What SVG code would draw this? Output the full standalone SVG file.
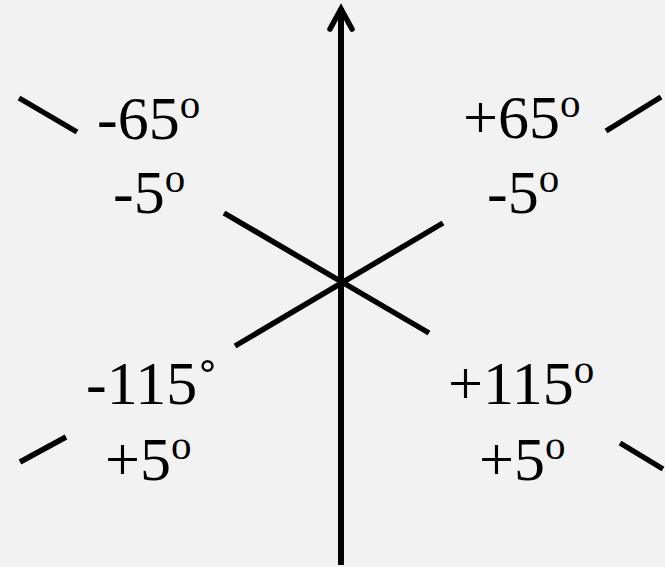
<svg xmlns="http://www.w3.org/2000/svg" width="665" height="567" viewBox="0 0 665 567">
<style>
.bg{fill:#f2f2f2}
.ln{stroke:#000;stroke-width:5.5;fill:none}
.ax{stroke:#000;stroke-width:6;fill:none}
.lb{font-family:"Liberation Serif","Times New Roman",serif;font-size:62px;fill:#000}
.sup{font-size:41px}
</style>
<rect class="bg" x="0" y="0" width="665" height="567"/>
<g id="connectors">
<line class="ax" x1="341" y1="565" x2="341" y2="8"/>
<polyline class="ln" points="330,29 341,9 352,29" stroke-width="6" stroke-linecap="round" stroke-linejoin="miter"/>
<line class="ln" x1="224" y1="213" x2="429" y2="333"/>
<line class="ln" x1="443" y1="223" x2="235" y2="346"/>
<line class="ln" x1="19" y1="98" x2="77" y2="132"/>
<line class="ln" x1="606" y1="131" x2="661" y2="97"/>
<line class="ln" x1="20" y1="462" x2="66" y2="437"/>
<line class="ln" x1="620" y1="443" x2="663" y2="469"/>
</g>
<g id="label-m65"><text class="lb" x="97" y="139">-65<tspan class="sup" dy="-21">o</tspan></text></g>
<g id="label-m5a"><text class="lb" x="113" y="213">-5<tspan class="sup" dy="-21">o</tspan></text></g>
<g id="label-p65"><text class="lb" x="463" y="138">+65<tspan class="sup" dy="-21">o</tspan></text></g>
<g id="label-m5b"><text class="lb" x="487" y="213">-5<tspan class="sup" dy="-21">o</tspan></text></g>
<g id="label-m115"><text class="lb" x="86" y="404">-115˚</text></g>
<g id="label-p5a"><text class="lb" x="105" y="480">+5<tspan class="sup" dy="-21">o</tspan></text></g>
<g id="label-p115"><text class="lb" x="448" y="404">+115<tspan class="sup" dy="-21">o</tspan></text></g>
<g id="label-p5b"><text class="lb" x="479" y="480">+5<tspan class="sup" dy="-21">o</tspan></text></g>
</svg>
